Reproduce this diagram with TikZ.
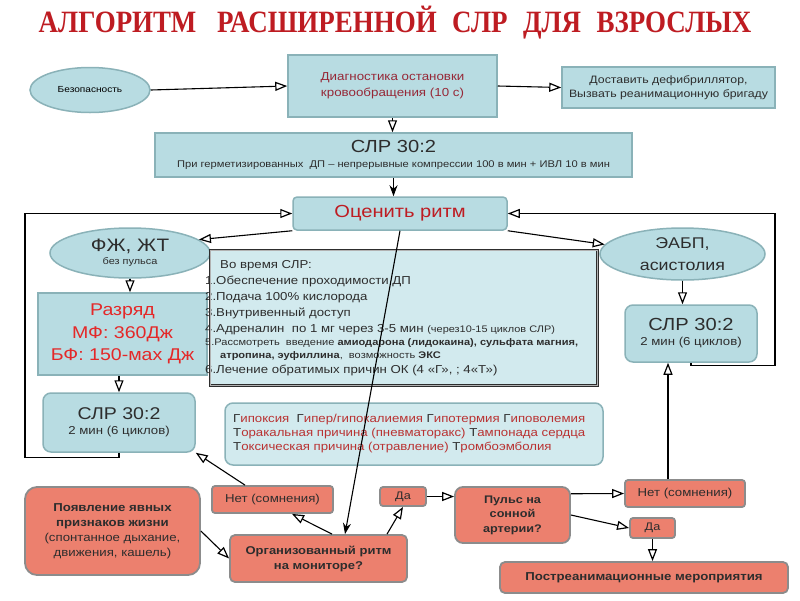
\documentclass[tikz,border=0pt]{standalone}
\usepackage{fontspec}
\setmainfont{Liberation Sans}[FakeStretch=1.15]
\newfontfamily\titlefont{Liberation Serif}
\usetikzlibrary{arrows.meta,shapes.geometric}
\definecolor{teal1}{RGB}{184,220,226}
\definecolor{tealb}{RGB}{138,178,184}
\definecolor{teal2}{RGB}{210,234,238}
\definecolor{salm}{RGB}{236,128,110}
\definecolor{salmb}{RGB}{140,140,140}
\definecolor{tred}{RGB}{190,28,34}
\definecolor{dred}{RGB}{150,40,55}
\definecolor{rred}{RGB}{228,40,40}
\definecolor{hred}{RGB}{185,50,50}
\definecolor{dgray}{RGB}{45,45,45}
\newcommand{\hf}[1]{\textcolor{dgray}{#1}}
\tikzset{
  tbox/.style={draw=tealb, fill=teal1, line width=1.5pt, align=center, inner sep=0pt},
  rbox/.style={tbox, rounded corners=5pt},
  oval/.style={ellipse, draw=tealb, fill=teal1, line width=1.5pt, align=center, inner sep=0pt},
  sbox/.style={draw=salmb, fill=salm, line width=1.8pt, rounded corners=5pt, align=center, inner sep=0pt, text=dgray},
  arr/.style={line width=1.1pt, -{Triangle[open,length=12pt,width=9pt,line width=1.2pt]}},
  farr/.style={line width=1.1pt, -{Stealth[length=11pt,width=8pt]}},
  voline/.style={anchor=base west, inner sep=0pt, font=\fontsize{11.5}{11.5}\selectfont, text=dgray},
  hyline/.style={anchor=base west, inner sep=0pt, font=\fontsize{11.5}{11.5}\selectfont, text=hred}
}
\begin{document}
\begin{tikzpicture}[x=1pt,y=-1pt]
\useasboundingbox (0,0) rectangle (800,600);
\fill[white] (0,0) rectangle (800,600);

% title
\node[inner sep=0pt, anchor=base, text=tred] (title) at (395,32)
  {\scalebox{0.87}[1]{\titlefont\bfseries\fontsize{31}{31}\selectfont АЛГОРИТМ\hspace{24pt}РАСШИРЕННОЙ\hspace{10pt} СЛР\hspace{10pt} ДЛЯ\hspace{10pt} ВЗРОСЛЫХ}};

% top row
\node[oval, minimum width=120pt, minimum height=45pt, font=\fontsize{8.8}{9}\selectfont] (bez) at (90,90) {Безопасность};
\node[tbox, minimum width=209pt, minimum height=62pt, text=dred, font=\fontsize{11.6}{16}\selectfont] (diag) at (392.5,86) {Диагностика остановки\\кровообращения (10 с)};
\node[tbox, minimum width=213pt, minimum height=41pt, text=dgray, font=\fontsize{10.7}{14}\selectfont] (dost) at (668.5,87.5) {Доставить дефибриллятор,\\Вызвать реанимационную бригаду};

\node[tbox, minimum width=477pt, minimum height=44pt, text=dgray] (slr1) at (393.5,155)
  {{\fontsize{17.5}{17.5}\selectfont СЛР 30:2}\\[3pt]{\fontsize{9.7}{10}\selectfont При герметизированных\ \ ДП -- непрерывные компрессии 100 в мин + ИВЛ 10 в мин}};

\node[rbox, rounded corners=4pt, minimum width=214pt, minimum height=33pt, text=tred, font=\fontsize{17.5}{17.5}\selectfont] (ocen) at (400,213.5) {Оценить ритм};

% left branch
\node[oval, minimum width=160pt, minimum height=50pt, text=dgray] (fzh) at (130,253)
  {{\fontsize{18}{18}\selectfont ФЖ, ЖТ}\\[1pt]{\fontsize{9.5}{10}\selectfont без пульса}};
\node[tbox, minimum width=169pt, minimum height=82pt, text=rred, font=\fontsize{17}{22.5}\selectfont] (razr) at (122.5,334)
  {Разряд\\МФ: 360Дж\\БФ: 150-мах Дж};
\node[rbox, rounded corners=8pt, minimum width=152pt, minimum height=59pt, text=dgray] (slrL) at (119,422.5)
  {{\fontsize{17}{17}\selectfont СЛР 30:2}\\[3pt]{\fontsize{11.5}{11.5}\selectfont 2 мин (6 циклов)}};

% right branch
\node[oval, minimum width=165pt, minimum height=52pt, text=dgray, font=\fontsize{15.5}{22}\selectfont] (eabp) at (682.5,254) {ЭАБП,\\асистолия};
\node[rbox, rounded corners=8pt, minimum width=132pt, minimum height=57pt, text=dgray] (slrR) at (691,333.5)
  {{\fontsize{17.5}{17.5}\selectfont СЛР 30:2}\\[3pt]{\fontsize{11.5}{11.5}\selectfont 2 мин (6 циклов)}};

% during CPR box
\node[fill=teal2, minimum width=387pt, minimum height=135pt, inner sep=0pt] (vo) at (403.5,317.5) {};
\node[voline] (vo0) at (220,268) {Во время СЛР:};
\node[voline] (vo1) at (205,284) {1.Обеспечение проходимости ДП};
\node[voline] (vo2) at (205,300) {2.Подача 100\% кислорода};
\node[voline] (vo3) at (205,316) {3.Внутривенный доступ};
\node[voline] (vo4) at (205,332) {4.Адреналин\ \ по 1 мг через 3-5 мин {\fontsize{9.5}{9.5}\selectfont (через10-15 циклов СЛР)}};
\node[voline, font=\fontsize{9.6}{9.6}\selectfont] (vo5) at (205,345) {5.Рассмотреть\ \ введение \textbf{амиодарона (лидокаина), сульфата магния,}};
\node[voline, font=\fontsize{9.6}{9.6}\selectfont] (vo5b) at (220,358) {\textbf{атропина, эуфиллина},\ \ возможность \textbf{ЭКС}};
\node[voline] (vo6) at (205,373) {6.Лечение обратимых причин ОК (4 «Г», ; 4«Т»)};
\draw[draw=dgray, line width=2.6pt] (vo.north west) rectangle (vo.south east);
\draw[draw=gray!60, line width=0.6pt] (vo.north west) rectangle (vo.south east);

% reversible causes
\node[rbox, rounded corners=8pt, fill=teal2, minimum width=378pt, minimum height=62pt] (hyp) at (414,434) {};
\node[hyline] (hy1) at (233,422) {\hf{Г}ипоксия\ \ \hf{Г}ипер/гипокалиемия \hf{Г}ипотермия \hf{Г}иповолемия};
\node[hyline] (hy2) at (233,436) {\hf{Т}оракальная причина (пневматоракс) \hf{Т}ампонада сердца};
\node[hyline] (hy3) at (233,450) {\hf{Т}оксическая причина (отравление) \hf{Т}ромбоэмболия};

% bottom salmon boxes
\node[sbox, rounded corners=12pt, minimum width=175pt, minimum height=88pt, font=\fontsize{11.5}{15}\selectfont] (poyav) at (112.5,531)
  {\textbf{Появление явных}\\\textbf{признаков жизни}\\(спонтанное дыхание,\\движения, кашель)};
\node[sbox, minimum width=177pt, minimum height=47pt, font=\bfseries\fontsize{11.3}{15}\selectfont] (org) at (318.5,558.5) {Организованный ритм\\на мониторе?};
\node[sbox, rounded corners=3pt, minimum width=121pt, minimum height=27pt, font=\fontsize{11.5}{12}\selectfont] (netL) at (272.5,499.5) {Нет (сомнения)};
\node[sbox, rounded corners=3pt, minimum width=46pt, minimum height=19pt, font=\fontsize{11}{12}\selectfont] (daL) at (403,496.5) {Да};
\node[sbox, rounded corners=8pt, minimum width=115pt, minimum height=56pt, font=\bfseries\fontsize{11}{14.5}\selectfont] (puls) at (512.5,515) {Пульс на\\сонной\\артерии?};
\node[sbox, rounded corners=3pt, minimum width=120pt, minimum height=27pt, font=\fontsize{11.5}{12}\selectfont] (netR) at (685,493.5) {Нет (сомнения)};
\node[sbox, rounded corners=3pt, minimum width=45pt, minimum height=20pt, font=\fontsize{11}{12}\selectfont] (daR) at (652.5,528) {Да};
\node[sbox, minimum width=288pt, minimum height=31pt, font=\bfseries\fontsize{11.5}{12}\selectfont] (post) at (644,577.5) {Постреанимационные мероприятия};

% helper columns
\coordinate (lx) at (25,0);
\coordinate (rx) at (775,0);
\coordinate (cR) at (668,0);
\coordinate (cO) at (345,0);
\coordinate (cNa) at (245,0);
\coordinate (cNb) at (332,0);
\coordinate (cNc) at (292,0);
\coordinate (cD) at (387,0);

% connectors
\draw[arr] (bez.east) -- (diag.west);
\draw[arr] (diag.east) -- (dost.west);
\draw[arr] (diag.south) -- (diag.south |- slr1.north);
\draw[farr] (slr1.south) -- (slr1.south |- ocen.north);
\draw[arr] (ocen.south west) -- (fzh.11);
\draw[arr] (ocen.south east) -- (eabp.173);
\draw[arr] (fzh.south) -- (fzh.south |- razr.north);
\draw[arr] (slrL.north |- razr.south) -- (slrL.north);
\draw[arr] (slrL.south) -- ++(0,5) -| (lx |- ocen.west) -- (ocen.west);
\draw[arr] (slrR.south) -- ++(0,3) -| (rx |- ocen.east) -- (ocen.east);
\draw[arr] (eabp.south) -- (eabp.south |- slrR.north);
\draw[arr] (cR |- netR.north) -- (cR |- slrR.south);
\draw[farr] (ocen.south) -- (cO |- org.north);
\draw[arr] (cNa |- netL.north) -- (slrL.south east);
\draw[arr] (poyav.east) -- (org.west);
\draw[arr] (cNb |- org.north) -- (cNc |- netL.south);
\draw[arr] (cD |- org.north) -- (daL.south);
\draw[arr] (daL.east) -- (daL.east -| puls.west);
\draw[arr] (puls.20) -- (netR.west);
\draw[arr] (puls.east) -- (daR.west);
\draw[arr] (daR.south) -- (daR.south |- post.north);
\end{tikzpicture}
\end{document}
